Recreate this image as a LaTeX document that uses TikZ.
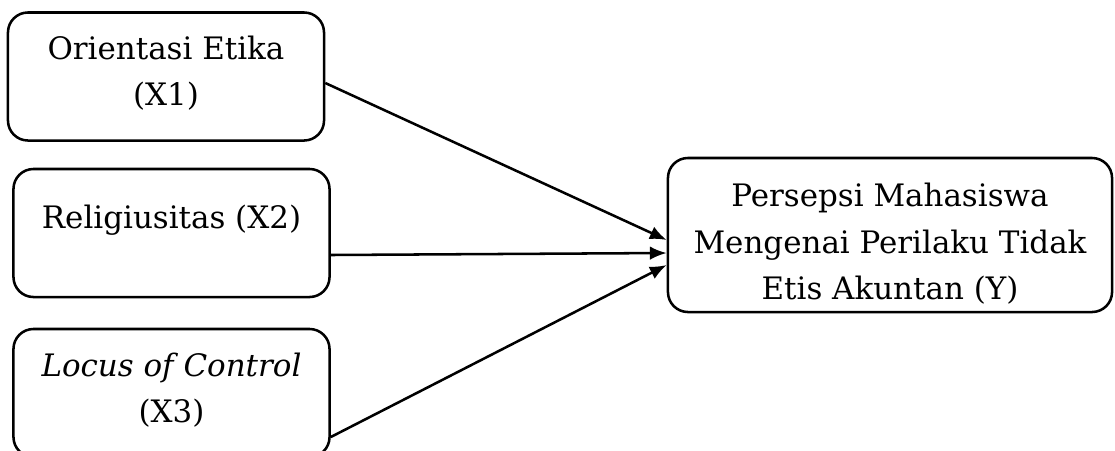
\documentclass[tikz,border=0pt]{standalone}
\usepackage{fontspec}
\setmainfont{DejaVu Serif}
\usetikzlibrary{positioning,calc,arrows.meta}
\def\boxw{7.9cm}
\def\boxh{3.2cm}
\tikzset{vbox/.style={draw,rectangle,rounded corners=0.5cm,line width=1.8pt},
	vtext/.style={align=center,inner sep=0pt,font=\fontsize{22}{33}\selectfont},
	link/.style={->,>={Latex[length=0.42cm,width=0.34cm]},line width=1.8pt}}
\newcommand{\varbox}[6]{\node[vbox,minimum width=#5,minimum height=#6] (#1) at (#2) {};
	\node[vtext,below=#3 of #1.north] (#1text) {#4};}

\begin{document}
\begin{tikzpicture}[x=0.025cm,y=-0.025cm]
\useasboundingbox (0,0) rectangle (1115,450);
\varbox{X1}{166,76.5}{0.6cm}{Orientasi Etika\\(X1)}{\boxw}{\boxh}
\varbox{X2}{171.5,233}{0.92cm}{Religiusitas (X2)}{\boxw}{\boxh}
\varbox{X3}{171.5,393}{0.62cm}{\textit{Locus of Control}\\(X3)}{\boxw}{\boxh}
\varbox{Y}{890,235}{0.66cm}{Persepsi Mahasiswa\\Mengenai Perilaku Tidak\\Etis Akuntan (Y)}{11.1cm}{3.85cm}

\draw[link] ($(X1.east)+(0,6.5)$) -- ($(Y.west)+(0,5)$);
\draw[link] ($(X2.east)+(0,22)$) -- ($(Y.west)+(0,18)$);
\draw[link] ($(X3.east)+(0,44)$) -- ($(Y.west)+(0,30)$);
\end{tikzpicture}
\end{document}
